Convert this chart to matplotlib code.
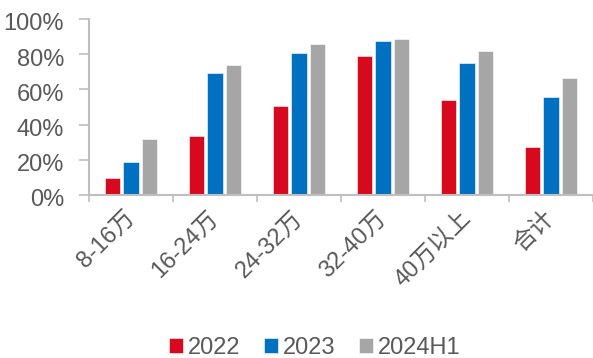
import matplotlib
matplotlib.use('Agg')
import matplotlib.pyplot as plt
import matplotlib.transforms as mtransforms
import numpy as np
from matplotlib.ticker import FuncFormatter, FixedLocator

plt.rcParams['font.family'] = ['Liberation Sans', 'Noto Sans CJK SC']

categories = ['8-16万', '16-24万', '24-32万', '32-40万', '40万以上', '合计']
series_names = ['2022', '2023', '2024H1']
values_2022 = [9.7, 33.3, 50.6, 79.0, 54.0, 27.1]
values_2023 = [18.6, 69.3, 80.7, 87.3, 74.8, 55.5]
values_2024h1 = [31.6, 74.0, 85.6, 88.4, 81.6, 66.5]
colors = ['#D7091F', '#0070C0', '#A6A6A6']

text_color = '#595959'
axis_color = '#BFBFBF'

fig = plt.figure(figsize=(5.93, 3.58), dpi=100)
ax = fig.add_axes([89 / 593, 1 - 195 / 358, 1 - 89 / 593, 176 / 358])

x = np.arange(len(categories))
width = 0.18
step = 0.225
for i, (vals, name) in enumerate(zip([values_2022, values_2023, values_2024h1], series_names)):
    ax.bar(x + (i - 1) * step, vals, width, color=colors[i], label=name,
           edgecolor='white', linewidth=0.4)

ax.set_xlim(-0.5, len(categories) - 0.5)
ax.set_ylim(0, 100)
ax.set_yticks(range(0, 101, 20))
ax.yaxis.set_major_formatter(FuncFormatter(lambda v, p: f'{v:.0f}%'))

# category labels at centres, tick marks at the boundaries
ax.set_xticks(x)
ax.set_xticklabels(categories, rotation=45, ha='right', va='center', rotation_mode='anchor')
shift = mtransforms.ScaledTranslation(6 / 100, 0, fig.dpi_scale_trans)
for lbl in ax.get_xticklabels():
    lbl.set_transform(lbl.get_transform() + shift)
ax.xaxis.set_minor_locator(FixedLocator(np.arange(-0.5, len(categories), 1.0)))
ax.tick_params(axis='x', which='major', length=0, pad=14, labelsize=17, labelcolor=text_color)
ax.tick_params(axis='x', which='minor', length=5, width=1.2, color=axis_color)
ax.tick_params(axis='y', length=7, width=1.2, color=axis_color, labelsize=17,
               labelcolor=text_color, pad=11)
down = mtransforms.ScaledTranslation(0, -3 / 100, fig.dpi_scale_trans)
for lbl in ax.get_yticklabels():
    lbl.set_transform(lbl.get_transform() + down)

for side in ['top', 'right']:
    ax.spines[side].set_visible(False)
for side in ['left', 'bottom']:
    ax.spines[side].set_color(axis_color)
    ax.spines[side].set_linewidth(1.5)

leg = fig.legend(loc='lower center', bbox_to_anchor=(0.53, -0.062), ncol=3, frameon=False,
                 fontsize=17, handlelength=0.6, handleheight=0.6, handletextpad=0.2,
                 columnspacing=1.0, labelcolor=text_color)

fig.savefig('out.png', dpi=100)
